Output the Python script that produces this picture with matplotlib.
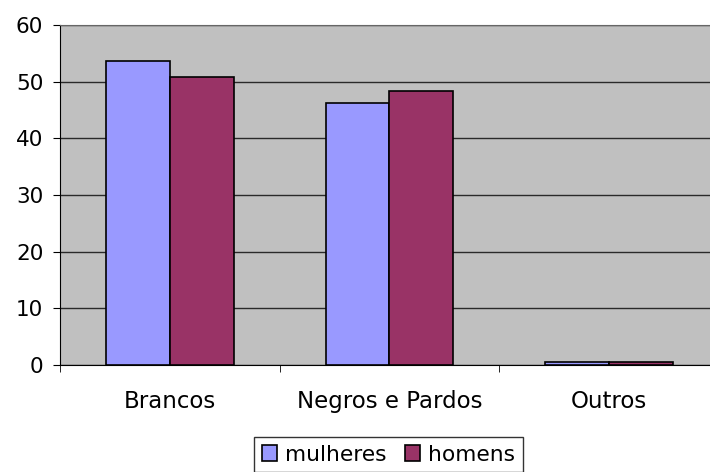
import matplotlib
matplotlib.use("Agg")
import matplotlib.pyplot as plt
import numpy as np

categories = ["Brancos", "Negros e Pardos", "Outros"]
mulheres = [53.6, 46.2, 0.6]
homens = [50.9, 48.3, 0.6]
yticks = [0, 10, 20, 30, 40, 50, 60]

plt.rcParams['font.family'] = ['DejaVu Sans']

fig = plt.figure(figsize=(7.1, 4.72), dpi=100)
ax = fig.add_axes([60/710, 1-365/472, 1-60/710, 340/472])
ax.set_facecolor('#C0C0C0')

x = np.arange(len(categories))
w = 0.29
ax.bar(x - w/2, mulheres, w, color='#9999FF', edgecolor='black', linewidth=1.2, label='mulheres', zorder=3)
ax.bar(x + w/2, homens, w, color='#993366', edgecolor='black', linewidth=1.2, label='homens', zorder=3)

ax.set_ylim(0, 60)
ax.set_xlim(-0.5, 2.5 - 9/220)
ax.set_yticks(yticks)
ax.set_yticklabels([str(t) for t in yticks], fontsize=15.5)
ax.yaxis.grid(True, color='#2a2a2a', linewidth=1.0, zorder=1)
ax.set_axisbelow(True)

ax.set_xticks(x)
ax.set_xticklabels(categories, fontsize=16.5)
ax.tick_params(axis='x', length=0, pad=18)
ax.set_xticks([-0.5, 0.5, 1.5], minor=True)
ax.tick_params(axis='x', which='minor', length=5, direction='out', color='black')
ax.tick_params(axis='y', length=5, direction='out', color='black', pad=7)

ax.spines['right'].set_visible(False)
ax.spines['top'].set_color('#666666')
ax.spines['left'].set_color('black')
ax.spines['bottom'].set_color('black')

leg = fig.legend(loc='upper center', bbox_to_anchor=(388.5/710, 1-437/472), ncol=2, fontsize=15.7,
                 frameon=True, fancybox=False, edgecolor='black', handlelength=0.7,
                 handleheight=0.7, handletextpad=0.35, columnspacing=0.85, borderpad=0.35,
                 borderaxespad=0)
leg.get_frame().set_linewidth(1.0)

fig.savefig('out.png', dpi=100)
